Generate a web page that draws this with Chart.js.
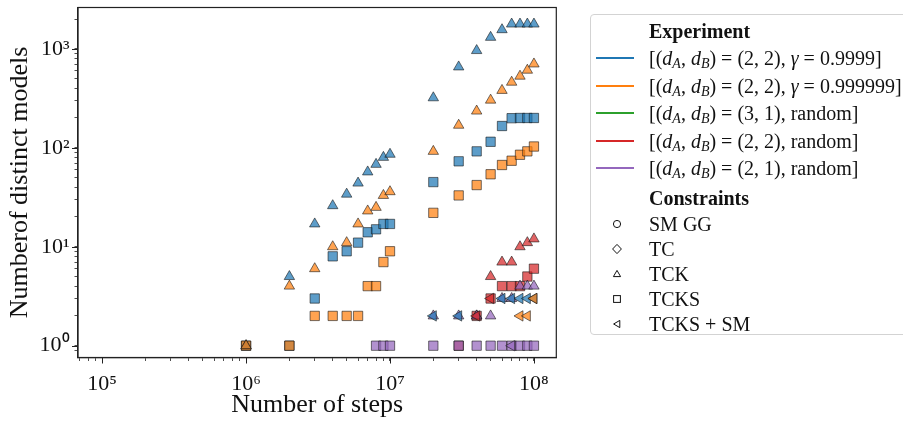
<!DOCTYPE html>
<html>
<head>
<meta charset="utf-8">
<script src="https://cdn.jsdelivr.net/npm/chart.js@4"></script>
<style>
    html, body { margin: 0; padding: 0; background: #fff; }
    #wrap { position: relative; width: 903px; height: 423px; overflow: hidden; }
    #chart { position: absolute; left: 0; top: 0; }
    #legend {
        position: absolute; left: 590px; top: 14px; width: 340px; height: 321px;
        border: 1px solid #d3d3d3; border-radius: 4px; box-sizing: border-box;
        font-family: "Liberation Serif", serif; font-size: 20px; color: #111;
    }
    .row { position: absolute; left: 0; height: 26px; width: 330px; }
    .row .txt { position: absolute; left: 58px; top: 0; line-height: 26px; white-space: nowrap; }
    .row .sw { position: absolute; left: 5px; top: 12px; width: 38px; height: 2px; }
    .row svg { position: absolute; left: 20px; top: 7px; }
    .head { font-weight: bold; }
    sub { font-size: 70%; vertical-align: -3px; line-height: 0; }
</style>
</head>
<body>
<div id="wrap">
    <canvas id="chart" width="903" height="423"></canvas>
    <div id="legend"></div>
</div>
<script>
// steps (x values)
const stepsFull = [1e6, 2e6, 3e6, 4e6, 5e6, 6e6, 7e6, 8e6, 9e6, 1e7, 2e7, 3e7, 4e7, 5e7, 6e7, 7e7, 8e7, 9e7, 1e8];

// [(dA,dB)=(2,2), gamma=0.9999]
const blueTCK  = [1, 5, 17, 26, 34, 44, 57, 68, 80, 86, 320, 656, 960, 1306, 1560, 1780, 1780, 1780, 1780];
const blueTCKS = [1, 1, 3, 8, 9, 11, 14, 15, 17, 17, 45, 73, 92, 115, 166, 199, 200, 200, 200];
const blueSMSteps = [2e7, 3e7, 6e7, 7e7, 8e7, 9e7, 1e8];
const blueSM      = [2, 2, 3, 3, 3, 3, 3];

// [(dA,dB)=(2,2), gamma=0.999999]
const orangeTCK  = [1, 4, 6, 10, 11, 17, 23, 25, 33, 36, 92, 169, 235, 303, 380, 460, 529, 608, 703];
const orangeTCKS = [1, 1, 2, 2, 2, 2, 4, 4, 7, 9, 22, 33, 42, 54, 67, 74, 85, 92, 103];
const orangeSMSteps = [8e7, 9e7, 1e8];
const orangeSM      = [2, 2, 3];

// [(dA,dB)=(2,2), random]
const redTCKSteps  = [4e7, 5e7, 6e7, 7e7, 8e7, 9e7, 1e8];
const redTCK       = [2, 5, 7, 7, 10, 11, 12];
const redTCKSSteps = [3e7, 4e7, 5e7, 6e7, 7e7, 8e7, 9e7, 1e8];
const redTCKS      = [1, 2, 3, 4, 4, 4, 5, 6];
const redSMSteps   = [4e7, 5e7];
const redSM        = [2, 3];

// [(dA,dB)=(2,1), random]
const purpleTCKSteps  = [2e7, 3e7, 4e7, 5e7, 6e7, 7e7, 8e7, 9e7, 1e8];
const purpleTCK       = [2, 2, 2, 2, 3, 3, 4, 4, 4];
const purpleTCKSSteps = [8e6, 9e6, 1e7, 2e7, 3e7, 4e7, 5e7, 6e7, 7e7, 8e7, 9e7, 1e8];
const purpleTCKS      = [1, 1, 1, 1, 1, 1, 1, 1, 1, 1, 1, 1];
const purpleSMSteps   = [7e7];
const purpleSM        = [1];

const experiments = [
    "[(<i>d</i><sub><i>A</i></sub>, <i>d</i><sub><i>B</i></sub>) = (2, 2), <i>γ</i> = 0.9999]",
    "[(<i>d</i><sub><i>A</i></sub>, <i>d</i><sub><i>B</i></sub>) = (2, 2), <i>γ</i> = 0.999999]",
    "[(<i>d</i><sub><i>A</i></sub>, <i>d</i><sub><i>B</i></sub>) = (3, 1), random]",
    "[(<i>d</i><sub><i>A</i></sub>, <i>d</i><sub><i>B</i></sub>) = (2, 2), random]",
    "[(<i>d</i><sub><i>A</i></sub>, <i>d</i><sub><i>B</i></sub>) = (2, 1), random]"
];
const constraints = ["SM GG", "TC", "TCK", "TCKS", "TCKS + SM"];

const colors = ["31,119,180", "255,127,14", "44,160,44", "214,39,40", "148,103,189"];

function pts(xs, ys) {
    return xs.map((x, i) => ({ x: x, y: ys[i] }));
}

function serie(name, c, style, xs, ys) {
    const isLeft = style === "left";
    return {
        label: name,
        data: pts(xs, ys),
        pointStyle: isLeft ? "triangle" : style,
        rotation: isLeft ? -90 : 0,
        pointRadius: style === "rect" ? 6.6 : 6,
        backgroundColor: "rgba(" + colors[c] + ",0.72)",
        borderColor: "rgba(20,20,20,0.65)",
        borderWidth: 0.9
    };
}

// drawing order: squares, then triangles, then left triangles
const datasets = [
    serie("b TCKS", 0, "rect", stepsFull, blueTCKS),
    serie("o TCKS", 1, "rect", stepsFull, orangeTCKS),
    serie("r TCKS", 3, "rect", redTCKSSteps, redTCKS),
    serie("p TCKS", 4, "rect", purpleTCKSSteps, purpleTCKS),
    serie("b TCK", 0, "triangle", stepsFull, blueTCK),
    serie("o TCK", 1, "triangle", stepsFull, orangeTCK),
    serie("r TCK", 3, "triangle", redTCKSteps, redTCK),
    serie("p TCK", 4, "triangle", purpleTCKSteps, purpleTCK),
    serie("b TCKS+SM", 0, "left", blueSMSteps, blueSM),
    serie("o TCKS+SM", 1, "left", orangeSMSteps, orangeSM),
    serie("r TCKS+SM", 3, "left", redSMSteps, redSM),
    serie("p TCKS+SM", 4, "left", purpleSMSteps, purpleSM)
];
// later series on top, like matplotlib
datasets.forEach((d, i) => { d.order = -i; });

const SUP = { "-": "⁻", "0": "⁰", "1": "¹", "2": "²", "3": "³", "4": "⁴", "5": "⁵", "6": "⁶", "7": "⁷", "8": "⁸", "9": "⁹" };

function isPow10(v) {
    const e = Math.log10(v);
    return Math.abs(e - Math.round(e)) < 1e-6;
}

function keepLogTicks(scale) {
    scale.ticks = scale.ticks.filter(t => {
        const e = Math.floor(Math.log10(t.value) + 1e-9);
        const m = t.value / Math.pow(10, e);
        return Math.abs(m - Math.round(m)) < 1e-6;
    });
}

function powLabel(value) {
    if (!isPow10(value)) return "";
    return "10" + String(Math.round(Math.log10(value))).split("").map(ch => SUP[ch]).join("");
}

function noPad(s) {
    s.paddingTop = 0;
    s.paddingBottom = 0;
    s.paddingLeft = 0;
    s.paddingRight = 0;
}

const frame = {
    id: "frame",
    afterDraw(chart) {
        const a = chart.chartArea;
        const ctx = chart.ctx;
        ctx.save();
        ctx.strokeStyle = "#222";
        ctx.lineWidth = 1.2;
        ctx.strokeRect(a.left, a.top, a.right - a.left, a.bottom - a.top);
        // longer major ticks
        ctx.lineWidth = 1;
        const xs = chart.scales.x, ys = chart.scales.y;
        xs.ticks.forEach(t => {
            if (!isPow10(t.value)) return;
            const px = Math.round(xs.getPixelForValue(t.value)) + 0.5;
            ctx.beginPath(); ctx.moveTo(px, a.bottom); ctx.lineTo(px, a.bottom + 6); ctx.stroke();
        });
        ys.ticks.forEach(t => {
            if (!isPow10(t.value)) return;
            const py = Math.round(ys.getPixelForValue(t.value)) + 0.5;
            ctx.beginPath(); ctx.moveTo(a.left, py); ctx.lineTo(a.left - 6, py); ctx.stroke();
        });
        ctx.restore();
    }
};

const tickFont = { family: "'Liberation Serif', serif", size: 22 };
const titleFont = { family: "'Liberation Serif', serif", size: 26 };

new Chart(document.getElementById("chart"), {
    type: "scatter",
    data: { datasets: datasets },
    options: {
        responsive: false,
        animation: false,
        layout: { padding: { left: 0, right: 346.7, top: 6, bottom: 0 } },
        plugins: { legend: { display: false }, tooltip: { enabled: false } },
        scales: {
            x: {
                type: "logarithmic",
                min: 6.8e4,
                max: 1.43e8,
                afterBuildTicks: keepLogTicks,
                afterFit: s => { s.height = 65.5; noPad(s); },
                grid: { drawOnChartArea: false, drawTicks: true, tickLength: 3.5, color: "#222", tickWidth: 0.8 },
                border: { display: true, color: "#222", width: 1.2 },
                ticks: { autoSkip: false, maxRotation: 0, padding: 10, color: "#111", font: tickFont, callback: powLabel },
                title: { display: true, text: "Number of steps", color: "#111", font: titleFont, padding: { top: 0, bottom: 2 } }
            },
            y: {
                type: "logarithmic",
                min: 0.76,
                max: 2615,
                afterBuildTicks: keepLogTicks,
                afterFit: s => { s.width = 78; noPad(s); },
                grid: { drawOnChartArea: false, drawTicks: true, tickLength: 3.5, color: "#222", tickWidth: 0.8 },
                border: { display: true, color: "#222", width: 1.2 },
                ticks: { autoSkip: false, padding: 5, color: "#111", font: tickFont, callback: powLabel },
                title: { display: true, text: "Numberof distinct models", color: "#111", font: titleFont, padding: { top: 5, bottom: 4 } }
            }
        }
    },
    plugins: [frame]
});

// legend (HTML)
function shapeSvg(kind) {
    const s = '<svg width="12" height="12" viewBox="0 0 12 12">';
    let body = "";
    if (kind === 0) body = '<circle cx="6" cy="6" r="3.6" fill="none" stroke="#111" stroke-width="1"/>';
    if (kind === 1) body = '<polygon points="6,1.4 10.4,6 6,10.6 1.6,6" fill="none" stroke="#111" stroke-width="1"/>';
    if (kind === 2) body = '<polygon points="6,2.4 9.6,8.6 2.4,8.6" fill="none" stroke="#111" stroke-width="1"/>';
    if (kind === 3) body = '<rect x="2.6" y="2.6" width="6.8" height="6.8" fill="none" stroke="#111" stroke-width="1"/>';
    if (kind === 4) body = '<polygon points="2.6,6 8.8,2.4 8.8,9.6" fill="none" stroke="#111" stroke-width="1"/>';
    return s + body + "</svg>";
}

const legend = document.getElementById("legend");
let html = '<div class="row" style="top:3px"><span class="txt head">Experiment</span></div>';
const expTops = [30, 57.5, 85, 112.5, 140];
experiments.forEach((e, i) => {
    html += '<div class="row" style="top:' + expTops[i] + 'px">' +
        '<div class="sw" style="background:rgb(' + colors[i] + ')"></div>' +
        '<span class="txt">' + e + '</span></div>';
});
html += '<div class="row" style="top:170px"><span class="txt head">Constraints</span></div>';
const conTops = [196, 221, 246, 271, 296];
constraints.forEach((c, i) => {
    html += '<div class="row" style="top:' + conTops[i] + 'px">' + shapeSvg(i) +
        '<span class="txt">' + c + '</span></div>';
});
legend.innerHTML = html;
</script>
</body>
</html>
